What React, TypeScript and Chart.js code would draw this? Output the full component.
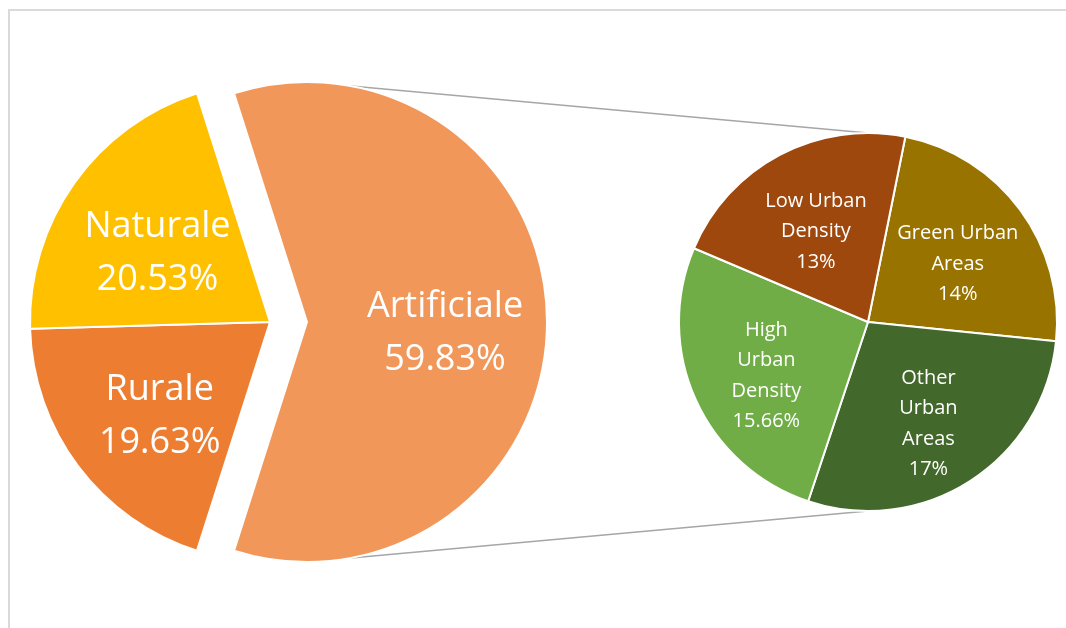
import React, { useEffect, useRef } from "react";
import { Chart, registerables } from "chart.js";

Chart.register(...registerables);

// ---- data ----
const mainLabels = ["Artificiale", "Rurale", "Naturale"];
const mainValues = [59.83, 19.63, 20.53];
const mainColors = ["#F1975A", "#ED7D31", "#FFC000"];

const subLabels = [
  ["Green Urban", "Areas"],
  ["Other", "Urban", "Areas"],
  ["High", "Urban", "Density"],
  ["Low Urban", "Density"],
];
const subValues = [14, 17, 15.66, 13];
const subColors = ["#997300", "#43682B", "#70AD47", "#9E480E"];

const W = 1066;
const H = 628;

function fmtPct(v: number): string {
  return String(v) + "%";
}

function makeLabelPlugin(
  lines: (i: number) => string[],
  frac: number,
  font: string,
  lineH: number,
  dy: number
) {
  return {
    id: "sliceLabels",
    afterDatasetsDraw(chart: any) {
      const ctx = chart.ctx;
      const meta = chart.getDatasetMeta(0);
      ctx.save();
      ctx.fillStyle = "#FFFFFF";
      ctx.font = font;
      ctx.textAlign = "center";
      ctx.textBaseline = "middle";
      meta.data.forEach((arc: any, i: number) => {
        const mid = (arc.startAngle + arc.endAngle) / 2;
        const r = arc.outerRadius * frac;
        const cx = arc.x + Math.cos(mid) * r;
        const cy = arc.y + Math.sin(mid) * r + dy;
        const ls = lines(i);
        const top = cy - ((ls.length - 1) * lineH) / 2;
        ls.forEach((t, k) => ctx.fillText(t, cx, top + k * lineH));
      });
      ctx.restore();
    },
  };
}

export default function App() {
  const leftRef = useRef<HTMLCanvasElement | null>(null);
  const rightRef = useRef<HTMLCanvasElement | null>(null);

  useEffect(() => {
    if (!leftRef.current || !rightRef.current) return;

    const rightChart = new Chart(rightRef.current, {
      type: "pie",
      data: {
        labels: subLabels.map((l) => l.join(" ")),
        datasets: [
          {
            data: subValues,
            backgroundColor: subColors,
            borderColor: "#FFFFFF",
            borderWidth: 2,
          },
        ],
      },
      options: {
        responsive: false,
        animation: false,
        events: [],
        rotation: 11.4,
        radius: 189,
        layout: { padding: { left: 680, right: 10, top: 16, bottom: 0 } },
        plugins: { legend: { display: false }, tooltip: { enabled: false } },
      } as any,
      plugins: [
        makeLabelPlugin(
          (i) => [...subLabels[i], fmtPct(subValues[i])],
          0.59,
          '20px "Open Sans"',
          30.5,
          8
        ),
      ],
    });

    const explodeDist = [37, 0, 0];
    const explodePlugin = {
      id: "explode",
      afterDatasetUpdate(chart: any, args: any) {
        const meta = chart.getDatasetMeta(args.index);
        meta.data.forEach((arc: any, i: number) => {
          const d = explodeDist[i] || 0;
          if (!d) return;
          const mid = (arc.startAngle + arc.endAngle) / 2;
          arc.x += Math.cos(mid) * d;
          arc.y += Math.sin(mid) * d;
        });
      },
    };

    const connectorPlugin = {
      id: "connectors",
      beforeDatasetsDraw(chart: any) {
        const a = chart.getDatasetMeta(0).data[0];
        const b = rightChart.getDatasetMeta(0).data[0] as any;
        if (!a || !b) return;
        const ctx = chart.ctx;
        ctx.save();
        ctx.strokeStyle = "#A6A6A6";
        ctx.lineWidth = 1.5;
        ctx.beginPath();
        ctx.moveTo(a.x, a.y - a.outerRadius);
        ctx.lineTo(b.x, b.y - b.outerRadius);
        ctx.moveTo(a.x, a.y + a.outerRadius);
        ctx.lineTo(b.x, b.y + b.outerRadius);
        ctx.stroke();
        ctx.restore();
      },
    };

    const total = mainValues.reduce((s, v) => s + v, 0);

    const leftChart = new Chart(leftRef.current, {
      type: "pie",
      data: {
        labels: mainLabels,
        datasets: [
          {
            data: mainValues,
            backgroundColor: mainColors,
            borderColor: "#FFFFFF",
            borderWidth: 2,
          },
        ],
      },
      options: {
        responsive: false,
        animation: false,
        events: [],
        rotation: 90 - (mainValues[0] / total) * 180,
        radius: 240,
        layout: { padding: { left: 0, right: 526, top: 16, bottom: 0 } },
        plugins: { legend: { display: false }, tooltip: { enabled: false } },
      } as any,
      plugins: [
        explodePlugin,
        connectorPlugin,
        makeLabelPlugin(
          (i) => [mainLabels[i], fmtPct(mainValues[i])],
          0.575,
          '36px "Open Sans"',
          53,
          11
        ),
      ],
    });

    return () => {
      leftChart.destroy();
      rightChart.destroy();
    };
  }, []);

  return (
    <div
      style={{
        position: "absolute",
        left: 0,
        top: 0,
        width: W,
        height: H,
        overflow: "hidden",
        background: "#FFFFFF",
      }}
    >
      <div
        style={{
          position: "absolute",
          left: 8,
          top: 9,
          width: W - 8,
          height: H - 9,
          borderLeft: "2px solid #DADADA",
          borderTop: "2px solid #DADADA",
          boxSizing: "border-box",
        }}
      />
      <canvas
        ref={leftRef}
        width={W}
        height={H}
        style={{ position: "absolute", left: 0, top: 0, display: "block" }}
      />
      <canvas
        ref={rightRef}
        width={W}
        height={H}
        style={{ position: "absolute", left: 0, top: 0, display: "block" }}
      />
    </div>
  );
}
